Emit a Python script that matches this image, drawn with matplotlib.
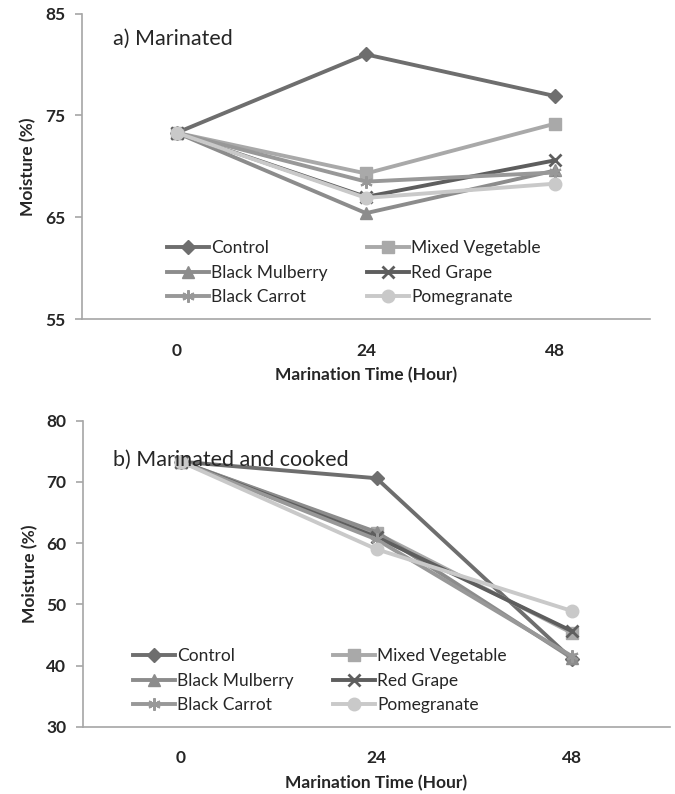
import matplotlib
matplotlib.use("Agg")
import matplotlib.pyplot as plt

plt.rcParams['font.family'] = ['Lato', 'DejaVu Sans']

hours = ["0", "24", "48"]
series = ["Control", "Mixed Vegetable", "Black Mulberry", "Red Grape", "Black Carrot", "Pomegranate"]

marinated_control = [73.3, 81.0, 76.9]
marinated_mixed = [73.3, 69.3, 74.2]
marinated_mulberry = [73.3, 65.4, 69.6]
marinated_grape = [73.3, 67.0, 70.6]
marinated_carrot = [73.3, 68.5, 69.4]
marinated_pomegranate = [73.3, 66.9, 68.3]

cooked_control = [73.3, 70.6, 41.0]
cooked_mixed = [73.3, 61.6, 45.3]
cooked_mulberry = [73.3, 61.8, 41.2]
cooked_grape = [73.3, 61.0, 45.6]
cooked_carrot = [73.3, 60.6, 41.5]
cooked_pomegranate = [73.3, 59.0, 48.9]

colors = ["#6e6e6e", "#a9a9a9", "#8c8c8c", "#5e5e5e", "#989898", "#c9c9c9"]
markers = ["D", "s", "^", "x", (6, 2, 0), "o"]
msizes = [7, 8.5, 8.5, 9, 9, 9]

W, H = 675, 794
fig = plt.figure(figsize=(6.75, 7.94), dpi=100)
ax1 = fig.add_axes([82 / W, 1 - 319 / H, (650 - 82) / W, (319 - 13.7) / H])
ax2 = fig.add_axes([83 / W, 1 - 726.7 / H, (670 - 83) / W, (726.7 - 420.7) / H])

panels = [
    (ax1, [marinated_control, marinated_mixed, marinated_mulberry, marinated_grape,
           marinated_carrot, marinated_pomegranate], (55, 85), [55, 65, 75, 85],
     "a) Marinated", 39, (167, 367), 240),
    (ax2, [cooked_control, cooked_mixed, cooked_mulberry, cooked_grape,
           cooked_carrot, cooked_pomegranate], (30, 80), [30, 40, 50, 60, 70, 80],
     "b) Marinated and cooked", 460, (133, 333), 648),
]

x = list(range(len(hours)))
txtc = "#262626"
for ax, data, ylim, yticks, title, ty, lx, ltop in panels:
    handles = []
    for vals, name, c, m, ms in zip(data, series, colors, markers, msizes):
        mew = 2 if m == "x" else (1.5 if isinstance(m, tuple) else 1)
        h, = ax.plot(x, vals, color=c, lw=2.8, marker=m, ms=ms, mec=c, mfc=c, mew=mew, label=name)
        handles.append(h)
    ax.set_xlim(-0.5, 2.5)
    ax.set_ylim(*ylim)
    ax.set_yticks(yticks)
    ax.set_xticks(x)
    ax.set_xticklabels(hours)
    for s in ["top", "right"]:
        ax.spines[s].set_visible(False)
    for s in ["left", "bottom"]:
        ax.spines[s].set_color("#a6a6a6")
        ax.spines[s].set_linewidth(1.2)
    ax.tick_params(axis="x", length=0, pad=17, labelsize=12.5)
    ax.tick_params(axis="y", length=5, color="#a6a6a6", width=1.2, pad=7, labelsize=12.5)
    for lab in ax.get_xticklabels() + ax.get_yticklabels():
        lab.set_fontweight("bold")
        lab.set_color(txtc)
    ax.set_ylabel("Moisture (%)", fontsize=12.5, fontweight="bold", color=txtc, labelpad=6)
    ax.set_xlabel("Marination Time (Hour)", fontsize=12.5, fontweight="bold", color=txtc, labelpad=6)
    fig.text(113 / W, 1 - ty / H, title, fontsize=15.5, color=txtc, va="center", ha="left")
    cols = [[0, 2, 4], [1, 3, 5]]
    legs = []
    for ci, idxs in enumerate(cols):
        leg = ax.legend([handles[i] for i in idxs], [series[i] for i in idxs], frameon=False,
                        loc="upper left", bbox_to_anchor=(lx[ci] / W, 1 - ltop / H),
                        bbox_transform=fig.transFigure, borderpad=0, borderaxespad=0,
                        fontsize=12.5, handlelength=2.4, handletextpad=0.15,
                        labelspacing=0.5, labelcolor=txtc)
        legs.append(leg)
    ax.add_artist(legs[0])

fig.savefig("out.png", dpi=100)
